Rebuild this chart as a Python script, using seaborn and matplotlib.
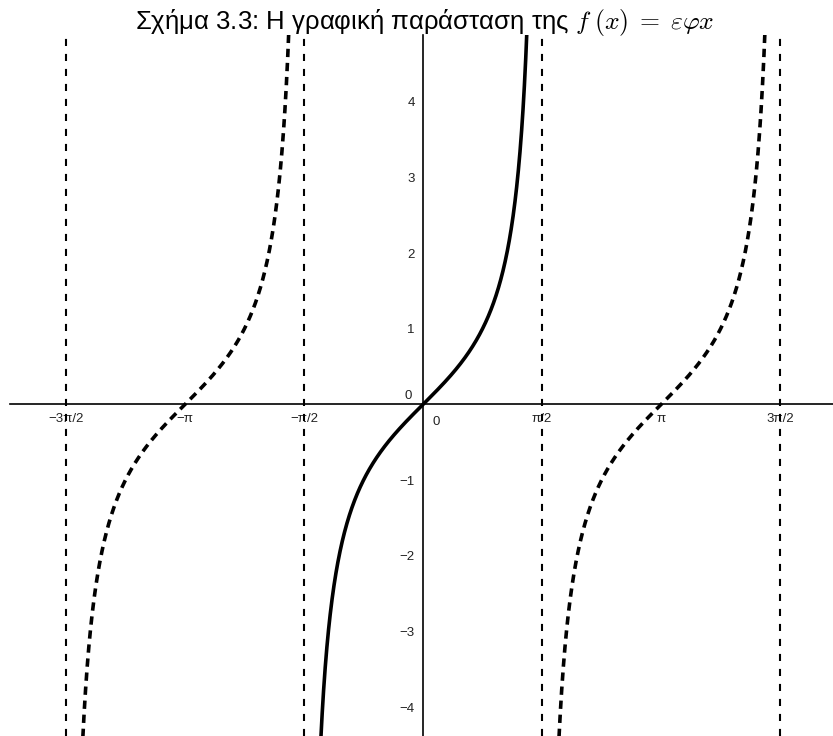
import numpy as np
import pandas as pd
import matplotlib
matplotlib.use("Agg")
import matplotlib.pyplot as plt
import seaborn as sns

sns.set_theme(style="white")
plt.rcParams["font.family"] = ["Liberation Sans", "DejaVu Sans"]
plt.rcParams["mathtext.fontset"] = "cm"

# Branches of the tangent: centre of each branch and its line style
branch_centres = [-np.pi, 0.0, np.pi]
branch_styles = ["dashed", "solid", "dashed"]

# Vertical asymptotes x = kπ/2 (k odd)
asymptotes = [-3 * np.pi / 2, -np.pi / 2, np.pi / 2, 3 * np.pi / 2]

# Axis ticks (the origin label is placed separately)
x_ticks = [-3 * np.pi / 2, -np.pi, -np.pi / 2, np.pi / 2, np.pi, 3 * np.pi / 2]
x_tick_labels = ["\u22123\u03c0/2", "\u2212\u03c0", "\u2212\u03c0/2", "\u03c0/2", "\u03c0", "3\u03c0/2"]
y_ticks = [-4, -3, -2, -1, 1, 2, 3, 4]
y_tick_labels = ["\u22124", "\u22123", "\u22122", "\u22121", "1", "2", "3", "4"]

x_limits = (-5.45, 5.41)
y_limits = (-4.38, 4.88)

rows = []
for c, style in zip(branch_centres, branch_styles):
    xs = np.linspace(c - 1.45, c + 1.45, 800)
    for x in xs:
        rows.append({"x": x, "y": np.tan(x), "branch": c, "style": style})
df = pd.DataFrame(rows)

fig = plt.figure(figsize=(8.33, 7.36), dpi=100)
ax = fig.add_axes([10 / 833, 0.0, 1 - 10 / 833, (736 - 35) / 736])

for c, style in zip(branch_centres, branch_styles):
    part = df[df["branch"] == c]
    sns.lineplot(data=part, x="x", y="y", ax=ax, color="black", lw=2.6,
                 sort=False, estimator=None)
    if style == "dashed":
        ax.lines[-1].set_dashes([2.3, 1.6])

for a in asymptotes:
    ax.axvline(a, color="black", lw=1.5, ls=(0, (3.4, 3.8)), zorder=1)

ax.set_xlim(*x_limits)
ax.set_ylim(*y_limits)

for side in ["top", "right"]:
    ax.spines[side].set_visible(False)
ax.spines["left"].set_position(("data", 0))
ax.spines["bottom"].set_position(("data", 0))
for side in ["left", "bottom"]:
    ax.spines[side].set_color("black")
    ax.spines[side].set_linewidth(1.2)

ax.set_xticks(x_ticks)
ax.set_xticklabels(x_tick_labels)
ax.set_yticks(y_ticks)
ax.set_yticklabels(y_tick_labels)
ax.tick_params(axis="both", direction="out", length=4, width=1, color="black",
               labelsize=9.5, labelcolor="#222222", pad=2)

# Origin labels: one below-right, one above-left of the crossing point
ax.text(0.13, -0.15, "0", ha="left", va="top", fontsize=9.5, color="#222222")
ax.text(-0.15, 0.03, "0", ha="right", va="bottom", fontsize=9.5, color="#222222")

ax.set_xlabel("")
ax.set_ylabel("")
ax.grid(False)

fig.text(0.510, 1 - 29.5 / 736,
         "\u03a3\u03c7\u03ae\u03bc\u03b1 3.3: \u0397 \u03b3\u03c1\u03b1\u03c6\u03b9\u03ba\u03ae \u03c0\u03b1\u03c1\u03ac\u03c3\u03c4\u03b1\u03c3\u03b7 \u03c4\u03b7\u03c2 $f\\;(x)\\;=\\;\\varepsilon\\varphi x$",
         ha="center", va="baseline", fontsize=18.5, color="black")

fig.savefig("out.png", dpi=100)
